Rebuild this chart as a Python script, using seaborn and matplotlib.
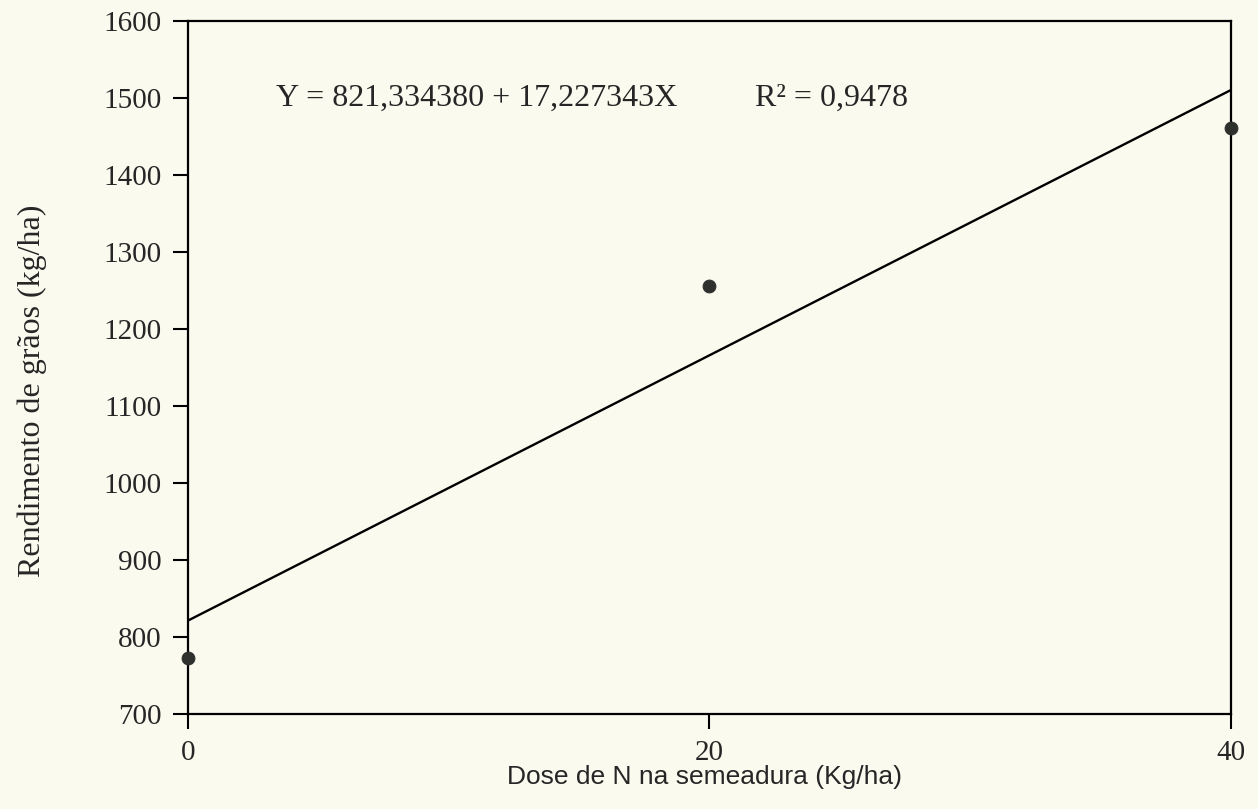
import matplotlib
matplotlib.use("Agg")
import matplotlib.pyplot as plt
import seaborn as sns
import pandas as pd

# dados
dose = [0, 20, 40]
rendimento = [773, 1256, 1461]
# reta ajustada: Y = 821,334380 + 17,227343X
reta_x = [0, 40]
reta_y = [821.33, 1510.43]
yticks = [700, 800, 900, 1000, 1100, 1200, 1300, 1400, 1500, 1600]
xticks = [0, 20, 40]

df = pd.DataFrame({"dose": dose, "rend": rendimento})
df_reta = pd.DataFrame({"x": reta_x, "y": reta_y})

fundo = "#fbfaef"
sns.set_style("ticks", {"axes.facecolor": fundo, "figure.facecolor": fundo})
plt.rcParams["font.family"] = ["Liberation Serif", "DejaVu Serif"]

fig = plt.figure(figsize=(12.58, 8.09), dpi=100)
ax = fig.add_axes([0.1494, 0.1174, 0.8291, 0.8566])

sns.lineplot(data=df_reta, x="x", y="y", color="black", linewidth=1.7, ax=ax)
sns.scatterplot(data=df, x="dose", y="rend", s=85, color="#2e302e",
                edgecolor="#2e302e", ax=ax, zorder=5, clip_on=False)

ax.set_xlim(0, 40)
ax.set_ylim(700, 1600)
ax.set_xticks(xticks)
ax.set_yticks(yticks)
ax.tick_params(axis="both", direction="out", length=11, width=1.5,
               labelsize=21, color="black")
ax.tick_params(axis="y", pad=8)
ax.tick_params(axis="x", pad=8)
for s in ax.spines.values():
    s.set_linewidth(1.6)
    s.set_color("black")

ax.set_ylabel("Rendimento de grãos (kg/ha)", fontsize=23)
ax.yaxis.set_label_coords(-0.135, 0.466)
ax.set_xlabel("Dose de N na semeadura (Kg/ha)", fontsize=19,
              family=["Liberation Sans", "DejaVu Sans"])
ax.xaxis.set_label_coords(0.495, -0.074)

ax.text(0.084, 0.877, "Y = 821,334380 + 17,227343X", transform=ax.transAxes,
        fontsize=23, va="baseline", ha="left")
ax.text(0.544, 0.877, "R² = 0,9478", transform=ax.transAxes,
        fontsize=23, va="baseline", ha="left")

fig.savefig("out.png", dpi=100, facecolor=fundo)
